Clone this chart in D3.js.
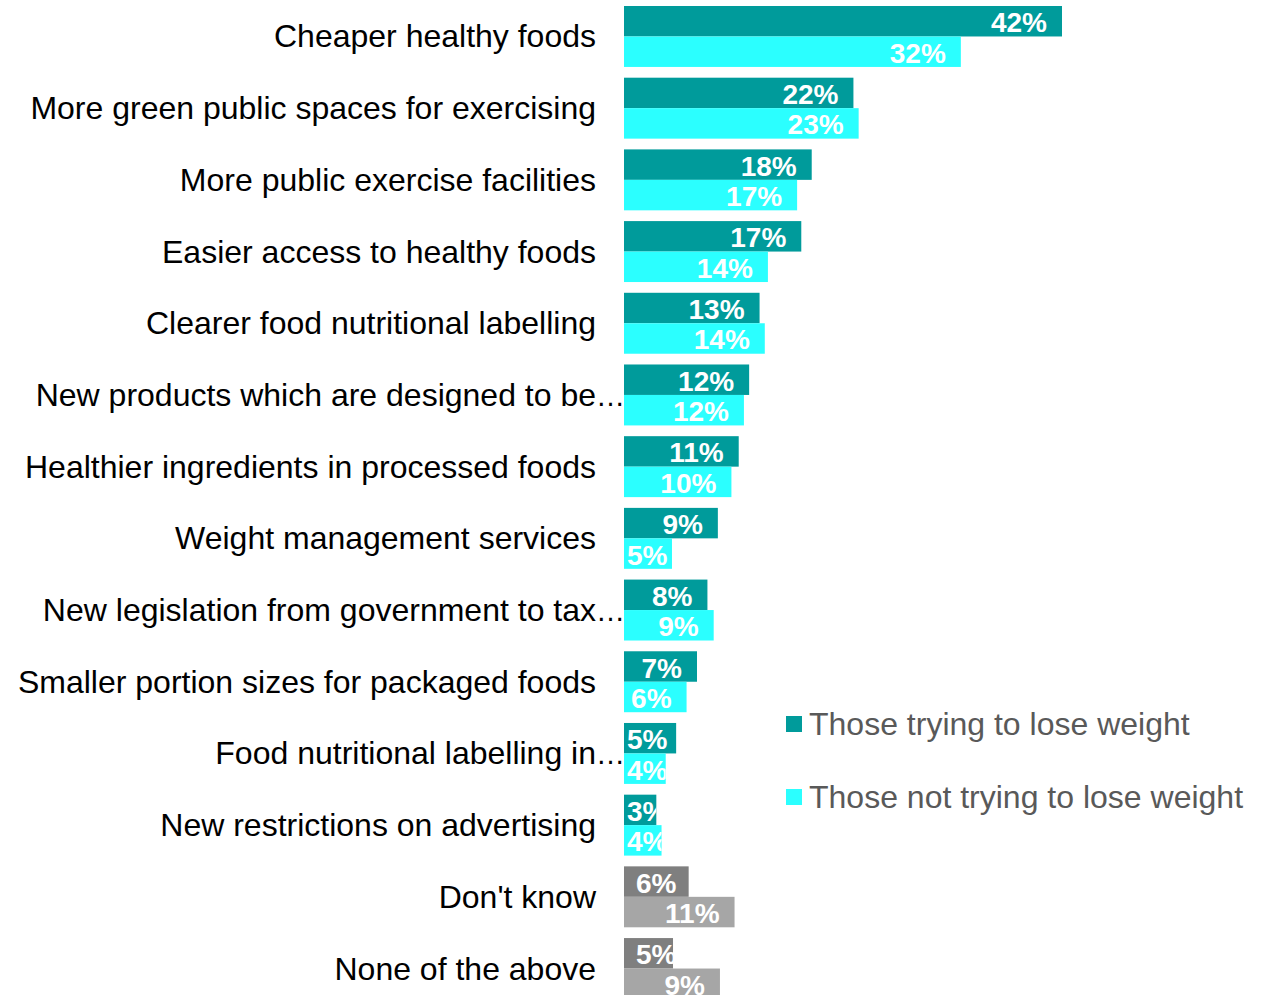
<!DOCTYPE html>
<html>
<head>
<meta charset="utf-8">
<script src="https://cdn.jsdelivr.net/npm/d3@7"></script>
<style>
    body { margin: 0; background: #fff; }
    svg { display: block; font-family: "Liberation Sans", Arial, sans-serif; }
</style>
</head>
<body>
<svg id="main-svg" width="1271" height="995"></svg>
<script>
// category labels (truncated ones keep their ellipsis like the source chart)
var categories = [
    "Cheaper healthy foods",
    "More green public spaces for exercising",
    "More public exercise facilities",
    "Easier access to healthy foods",
    "Clearer food nutritional labelling",
    "New products which are designed to be\u2026",
    "Healthier ingredients in processed foods",
    "Weight management services",
    "New legislation from government to tax\u2026",
    "Smaller portion sizes for packaged foods",
    "Food nutritional labelling in\u2026",
    "New restrictions on advertising",
    "Don't know",
    "None of the above"
];
var series = ["Those trying to lose weight", "Those not trying to lose weight"];
// percentages (labels are rounded)
var trying    = [42.0, 22.0, 18.0, 17.0, 13.0, 12.0, 11.0, 9.0, 8.0, 7.0, 5.0, 3.1, 6.2, 4.7];
var notTrying = [32.3, 22.5, 16.6, 13.8, 13.5, 11.5, 10.3, 4.6, 8.6, 6.0, 4.0, 3.6, 10.6, 9.2];
var neutral = ["Don't know", "None of the above"];

var svg = d3.select('#main-svg');

var x = d3.scaleLinear().domain([0, 42]).range([624, 1062]);
var y = d3.scaleBand().domain(categories).range([6, 999]).paddingInner(0.15).paddingOuter(0);
var ys = d3.scaleBand().domain(series).range([0, y.bandwidth()]);

var colors = { normal: ["#009b9b", "#2bffff"], neutral: ["#7f7f7f", "#a6a6a6"] };
var fmt = d3.format(".0f");

var rows = categories.map(function(c, i) {
    return { cat: c, vals: [trying[i], notTrying[i]] };
});

// category labels
rows.forEach(function(r) {
    var cy = y(r.cat) + y.bandwidth() / 2;
    var txt = r.cat;
    var trunc = txt.slice(-1) === "\u2026";
    if (trunc) txt = txt.slice(0, -1);
    svg.append('text')
        .attr('x', 596).attr('y', cy + 11)
        .attr('text-anchor', 'end')
        .style('font-size', '32px')
        .attr('fill', '#000')
        .text(txt);
    if (trunc) {
        svg.append('text')
            .attr('x', 596).attr('y', cy + 11)
            .style('font-size', '29px')
            .attr('fill', '#000')
            .text("\u2026");
    }
});

var defs = svg.append('defs');

// bars + labels
rows.forEach(function(r, ri) {
    var isNeutral = neutral.indexOf(r.cat) >= 0;
    r.vals.forEach(function(v, si) {
        var top = y(r.cat) + ys(series[si]);
        var h = ys.bandwidth();
        var x0 = x(0), x1 = x(v);
        svg.append('rect')
            .attr('x', x0).attr('y', top)
            .attr('width', x1 - x0).attr('height', h)
            .attr('fill', isNeutral ? colors.neutral[si] : colors.normal[si]);

        var id = 'clip-' + ri + '-' + si;
        defs.append('clipPath').attr('id', id)
            .append('rect')
            .attr('x', x0).attr('y', top)
            .attr('width', x1 - x0).attr('height', h);

        var t = svg.append('text')
            .attr('clip-path', 'url(#' + id + ')')
            .attr('y', top + h / 2 + 11)
            .style('font-size', '28px')
            .style('font-weight', 'bold')
            .attr('fill', '#fff')
            .text(fmt(v) + '%');
        var w = t.node().getComputedTextLength();
        // grey rows sit a bit further right in the source
        var minX = x0 + (isNeutral ? 12 : 3);
        t.attr('x', Math.max(minX, x1 - 15 - w));
    });
});

// legend
var legendY = [724, 797];
series.forEach(function(s, i) {
    svg.append('rect')
        .attr('x', 786).attr('y', legendY[i] - 8)
        .attr('width', 16).attr('height', 16)
        .attr('fill', colors.normal[i]);
    svg.append('text')
        .attr('x', 809).attr('y', legendY[i] + 11)
        .style('font-size', '32px')
        .attr('fill', '#595959')
        .text(s);
});
</script>
</body>
</html>
